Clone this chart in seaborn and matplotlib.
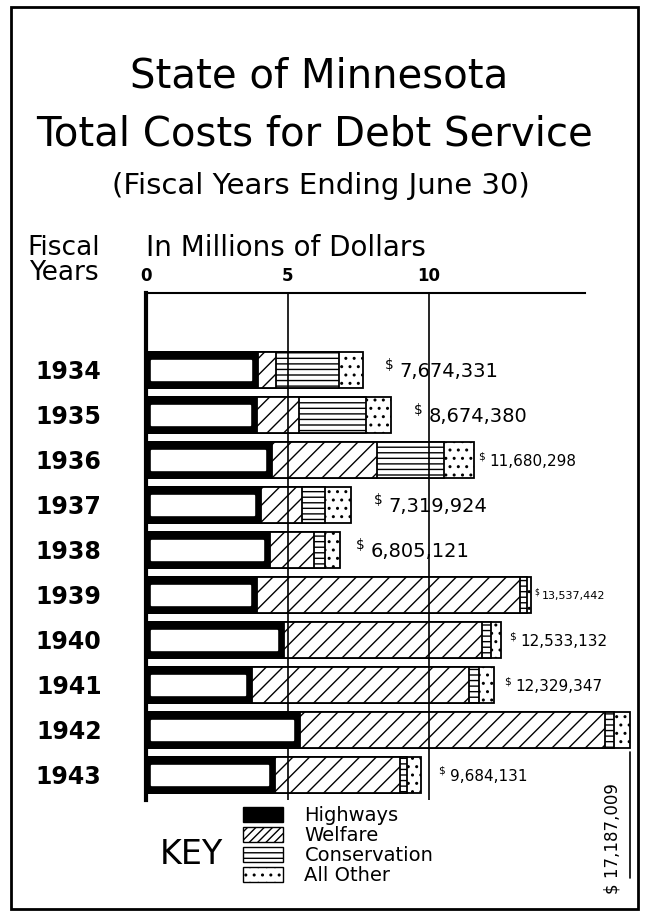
import numpy as np
import pandas as pd
import matplotlib
matplotlib.use('Agg')
import matplotlib.pyplot as plt
import seaborn as sns
from matplotlib.patches import Patch, Rectangle

# Data (millions of dollars)
years = ['1934', '1935', '1936', '1937', '1938', '1939', '1940', '1941', '1942', '1943']
highways = [3.94, 3.91, 4.44, 4.07, 4.39, 3.91, 4.86, 3.74, 5.45, 4.56]
welfare = [0.64, 1.49, 3.73, 1.44, 1.54, 9.30, 7.03, 7.68, 10.77, 4.43]
conservation = [2.23, 2.39, 2.37, 0.83, 0.39, 0.27, 0.30, 0.35, 0.30, 0.24]
all_other = [0.86, 0.87, 1.04, 0.92, 0.52, 0.12, 0.35, 0.53, 0.59, 0.47]
totals = [7674331, 8674380, 11680298, 7319924, 6805121,
          13537442, 12533132, 12329347, 17187009, 9684131]
categories = ['Highways', 'Welfare', 'Conservation', 'All Other']
ticks = [0, 5, 10]

# label styling per row (gap after the bar in px, font size)
label_gap = [22, 23, 4, 22, 16, 3, 8, 10, 0, 18]
label_size = [14, 14, 11, 14, 14, 8, 11, 11, 12, 11]

sns.set_theme(style='white')
plt.rcParams['font.family'] = ['DejaVu Sans']
plt.rcParams['hatch.linewidth'] = 1.0
plt.rcParams['hatch.color'] = 'black'
for k in ('text.color', 'axes.labelcolor', 'xtick.color', 'ytick.color'):
    plt.rcParams[k] = 'black'

df = pd.DataFrame({'year': years, 'highways': highways, 'welfare': welfare,
                   'conservation': conservation, 'other': all_other})
df['cum_w'] = df['highways'] + df['welfare']
df['cum_c'] = df['cum_w'] + df['conservation']
df['total'] = df['cum_c'] + df['other']

W, H = 646, 915
fig = plt.figure(figsize=(W / 100, H / 100), dpi=100)
ax = fig.add_axes([146 / W, 1 - 800 / H, (585 - 146) / W, (800 - 293) / H])

# stacked bars drawn as overlapping cumulative bars
for col, hatch in [('total', '..'), ('cum_c', '---'), ('cum_w', '//')]:
    sns.barplot(data=df, x=col, y='year', order=years, color='white',
                edgecolor='black', linewidth=1.3, hatch=hatch, width=0.8,
                saturation=1, ax=ax, zorder=2, clip_on=False)

for v in ticks[1:]:
    ax.axvline(v, color='black', lw=1.2, zorder=3)

sns.barplot(data=df, x='highways', y='year', order=years, color='black',
            edgecolor='black', linewidth=1.3, width=0.8, saturation=1,
            ax=ax, zorder=4, clip_on=False)
# white strip inside the highway bars
ax.barh(np.arange(len(years)), df['highways'] - 0.4, left=0.16, height=0.44,
        color='white', zorder=5)

ax.set_xlim(0, (585 - 146) / 28.3)
ax.set_ylim(9.56, -1.71)
ax.set_xlabel('')
ax.set_ylabel('')
ax.xaxis.tick_top()
ax.set_xticks(ticks)
ax.set_xticklabels([str(t) for t in ticks], fontweight='bold', fontsize=12)
ax.set_yticks(range(len(years)))
ax.set_yticklabels(years, fontweight='bold', fontsize=17)
ax.tick_params(axis='x', length=0, pad=6)
ax.tick_params(axis='y', length=0, pad=32)
sns.despine(ax=ax, top=False, left=False, right=True, bottom=True)
ax.spines['top'].set_linewidth(1.5)
ax.spines['left'].set_linewidth(3)
for s in ('top', 'left'):
    ax.spines[s].set_color('black')

# total labels
for i, (tot, end) in enumerate(zip(totals, df['total'])):
    size = label_size[i]
    if years[i] == '1942':
        ax.plot([end, end], [i + 0.49, i + 3.3], color='black', lw=1.2, clip_on=False)
        ax.annotate(f'$ {tot:,}', xy=(end, i), xytext=(-13, -78),
                    textcoords='offset points', rotation=90, ha='center',
                    va='center', fontsize=size, annotation_clip=False)
        continue
    gap = label_gap[i] * 0.72
    ax.annotate('$', xy=(end, i), xytext=(gap, size * 0.25),
                textcoords='offset points', ha='left', va='center',
                fontsize=size * 0.7, annotation_clip=False)
    ax.annotate(f'{tot:,}', xy=(end, i), xytext=(gap + size * 0.75, -size * 0.1),
                textcoords='offset points', ha='left', va='center',
                fontsize=size, annotation_clip=False)

# titles and headings
fig.text(319 / W, 1 - 76 / H, 'State of Minnesota', ha='center', va='center', fontsize=29)
fig.text(315 / W, 1 - 135 / H, 'Total Costs for Debt Service', ha='center', va='center', fontsize=29)
fig.text(321 / W, 1 - 186 / H, '(Fiscal Years Ending June 30)', ha='center', va='center', fontsize=21)
fig.text(27 / W, 1 - 248 / H, 'Fiscal', ha='left', va='center', fontsize=19)
fig.text(29 / W, 1 - 273 / H, 'Years', ha='left', va='center', fontsize=19)
fig.text(146 / W, 1 - 248 / H, 'In Millions of Dollars', ha='left', va='center', fontsize=20)

# key
handles = [Patch(facecolor='black', edgecolor='black'),
           Patch(facecolor='white', edgecolor='black', hatch='////'),
           Patch(facecolor='white', edgecolor='black', hatch='---'),
           Patch(facecolor='white', edgecolor='black', hatch='..')]
fig.legend(handles, categories, loc='upper left', bbox_to_anchor=(243 / W, 1 - 806 / H),
           frameon=False, fontsize=14, handlelength=2.06, handleheight=0.8,
           handletextpad=1.1, labelspacing=0.05, borderpad=0, borderaxespad=0)
fig.text(160 / W, 1 - 855 / H, 'KEY', ha='left', va='center', fontsize=24)

fig.add_artist(Rectangle((11 / W, 6 / H), 627 / W, 902 / H, transform=fig.transFigure,
                         fill=False, lw=2, ec='black'))

fig.savefig('out.png', dpi=100)
